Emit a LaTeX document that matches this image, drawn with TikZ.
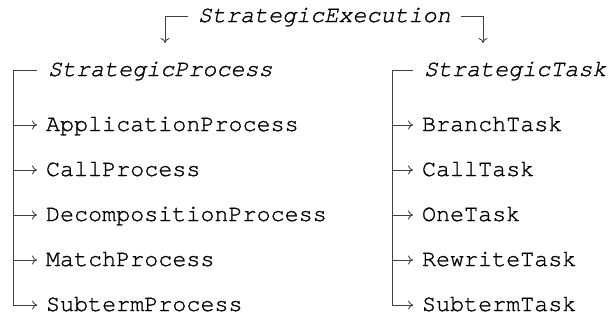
\documentclass[tikz,border=0pt]{standalone}
\usepackage{fontspec}
\setmonofont{TeX Gyre Cursor}[FakeBold=1]
\usetikzlibrary{arrows.meta}
\begin{document}
\begin{tikzpicture}[x=1pt,y=-1pt,
  cls/.style={inner sep=0pt, outer sep=0pt, anchor=west, text height=12pt, text depth=0pt,
    font=\fontsize{23.4}{26}\selectfont\ttfamily, text=black},
  abstract/.style={cls, font=\fontsize{23.4}{26}\selectfont\ttfamily\itshape},
  link/.style={draw=black!75, line width=0.9pt},
  arr/.style={link, -{To[length=5pt,width=9pt]}}]
  \useasboundingbox (0,0) rectangle (608,324);

  % root class
  \node[abstract] (exec) at (198,16) {StrategicExecution};
  \coordinate (pIn) at (165,43);
  \coordinate (tIn) at (483,43);
  \draw[arr] ([xshift=-10pt]exec.west) -| (pIn);
  \draw[arr] ([xshift=10pt]exec.east) -| (tIn);

  % process family
  \node[abstract] (sp) at (48,70) {StrategicProcess};
  \node[cls] (p1) at (46,125) {ApplicationProcess};
  \node[cls] (p2) at (46,170) {CallProcess};
  \node[cls] (p3) at (46,215) {DecompositionProcess};
  \node[cls] (p4) at (46,260) {MatchProcess};
  \node[cls] (p5) at (46,305) {SubtermProcess};
  \coordinate (pTop) at (13,70);
  \draw[link] ([xshift=-11pt]sp.west) -- (pTop) |- ([xshift=-9pt]p5.west);
  \draw[arr] ([xshift=-9pt]p5.west) -- ++(0.1,0);
  \foreach \n in {p1,p2,p3,p4}
    \draw[arr] (pTop |- \n.west) -- ([xshift=-9pt]\n.west);

  % task family
  \node[abstract] (st) at (424,70) {StrategicTask};
  \node[cls] (t1) at (422,125) {BranchTask};
  \node[cls] (t2) at (422,170) {CallTask};
  \node[cls] (t3) at (422,215) {OneTask};
  \node[cls] (t4) at (422,260) {RewriteTask};
  \node[cls] (t5) at (422,305) {SubtermTask};
  \coordinate (tTop) at (392,70);
  \draw[link] ([xshift=-11pt]st.west) -- (tTop) |- ([xshift=-9pt]t5.west);
  \draw[arr] ([xshift=-9pt]t5.west) -- ++(0.1,0);
  \foreach \n in {t1,t2,t3,t4}
    \draw[arr] (tTop |- \n.west) -- ([xshift=-9pt]\n.west);
\end{tikzpicture}
\end{document}
